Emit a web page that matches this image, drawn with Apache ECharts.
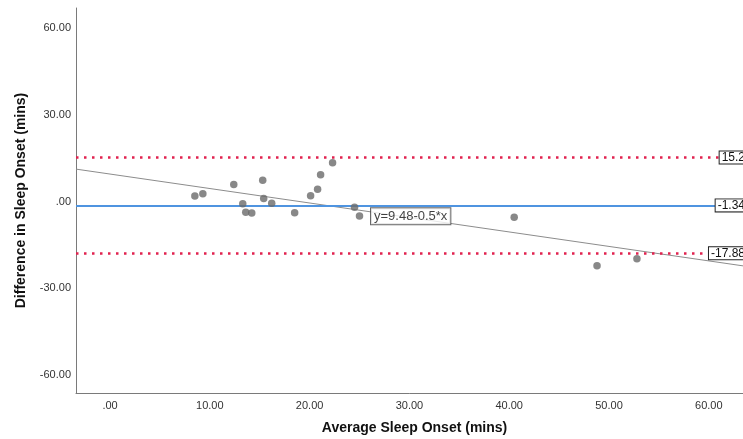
<!DOCTYPE html>
<html>
<head>
<meta charset="utf-8">
<script src="https://cdn.jsdelivr.net/npm/echarts@6/dist/echarts.min.js"></script>
<style>html,body{margin:0;padding:0;background:#fff}#c{width:743px;height:439px}</style>
</head>
<body>
<div id="c"></div>
<script>
// Data (Bland-Altman plot)
const avgOnset  = [8.5, 9.3, 12.4, 13.3, 13.6, 14.2, 15.3, 15.4, 16.2, 18.5, 20.1, 20.8, 21.1, 22.3, 24.5, 25.0, 40.5, 48.8, 52.8];
const diffOnset = [1.9, 2.7, 5.9, -0.8, -3.7, -4.0, 7.3, 1.0, -0.6, -3.9, 2.0, 4.2, 9.2, 13.4, -2.0, -5.0, -5.4, -22.2, -19.8];
const meanDiff = -1.34;
const upperLoA = 15.2;
const lowerLoA = -17.88;
const limitLabels = ['15.2', '-1.34', '-17.88'];
const regIntercept = 9.48;
const regSlope = -0.5;
const regLabel = 'y=9.48-0.5*x';
const xTicks = [0, 10, 20, 30, 40, 50, 60];
const yTicks = [-60, -30, 0, 30, 60];

const X_MIN = -3.41, X_MAX = 64.43, Y_MIN = -66.15, Y_MAX = 66.84;
const fmt = v => v === 0 ? '.00' : v.toFixed(2);
const font = 'Liberation Sans, Arial, sans-serif';
const regAt = x => regIntercept + regSlope * x;
const labelX = 25.65;

const boxLabel = (txt) => ({
  show: true, position: 'insideEnd', distance: 6,
  formatter: txt, color: '#111', fontSize: 12, fontFamily: font,
  backgroundColor: '#fff', borderColor: '#222', borderWidth: 1, padding: [0, 2, 0, 2]
});

const chart = echarts.init(document.getElementById('c'), null, {renderer: 'canvas'});
chart.setOption({
  animation: false,
  backgroundColor: '#fff',
  grid: {left: 76, top: 8, width: 677, height: 385, outerBoundsMode: 'none', containLabel: false},
  xAxis: {
    type: 'value', min: X_MIN, max: X_MAX,
    name: 'Average Sleep Onset (mins)', nameLocation: 'middle', nameGap: 28,
    nameTextStyle: {fontSize: 14, fontWeight: 'bold', color: '#111', fontFamily: font},
    axisLine: {show: true, onZero: false, lineStyle: {color: '#7a7a7a', width: 1}},
    axisTick: {show: false},
    splitLine: {show: false},
    axisLabel: {customValues: xTicks, formatter: fmt, fontSize: 11, color: '#333', fontFamily: font, margin: 7}
  },
  yAxis: {
    type: 'value', min: Y_MIN, max: Y_MAX,
    name: 'Difference in Sleep Onset (mins)', nameLocation: 'middle', nameGap: 48,
    nameTextStyle: {fontSize: 14, fontWeight: 'bold', color: '#111', fontFamily: font},
    axisLine: {show: true, onZero: false, lineStyle: {color: '#7a7a7a', width: 1}},
    axisTick: {show: false},
    splitLine: {show: false},
    axisLabel: {customValues: yTicks, formatter: fmt, fontSize: 11, color: '#333', fontFamily: font, margin: 5}
  },
  series: [
    {
      type: 'line', name: 'fit',
      data: [[X_MIN, regAt(X_MIN)], [X_MAX, regAt(X_MAX)]],
      showSymbol: false, symbol: 'none',
      lineStyle: {color: '#8c8c8c', width: 1},
      z: 2
    },
    {
      type: 'scatter', name: 'limits', data: [], z: 3,
      markLine: {
        silent: true, symbol: 'none',
        data: [
          {yAxis: upperLoA, lineStyle: {color: '#e1224f', width: 2.5, type: [2.5, 5.5]}, label: boxLabel(limitLabels[0])},
          {yAxis: meanDiff, lineStyle: {color: '#4f94e0', width: 2, type: 'solid'}, label: boxLabel(limitLabels[1])},
          {yAxis: lowerLoA, lineStyle: {color: '#e1224f', width: 2.5, type: [2.5, 5.5]}, label: boxLabel(limitLabels[2])}
        ]
      }
    },
    {
      type: 'scatter', name: 'points',
      data: avgOnset.map((x, i) => [x, diffOnset[i]]),
      symbol: 'circle', symbolSize: 7.5,
      itemStyle: {color: '#6a6a6a'},
      z: 5
    },
    {
      type: 'scatter', name: 'fitLabel',
      data: [[labelX, regAt(labelX)]],
      symbolSize: 0,
      label: {
        show: true, position: 'right', distance: 5, offset: [0, 5],
        formatter: regLabel, color: '#111', fontSize: 13, fontFamily: font,
        backgroundColor: '#fff', borderColor: '#444', borderWidth: 1, padding: [2, 3, 1, 3]
      },
      z: 6
    }
  ]
});
</script>
</body>
</html>
